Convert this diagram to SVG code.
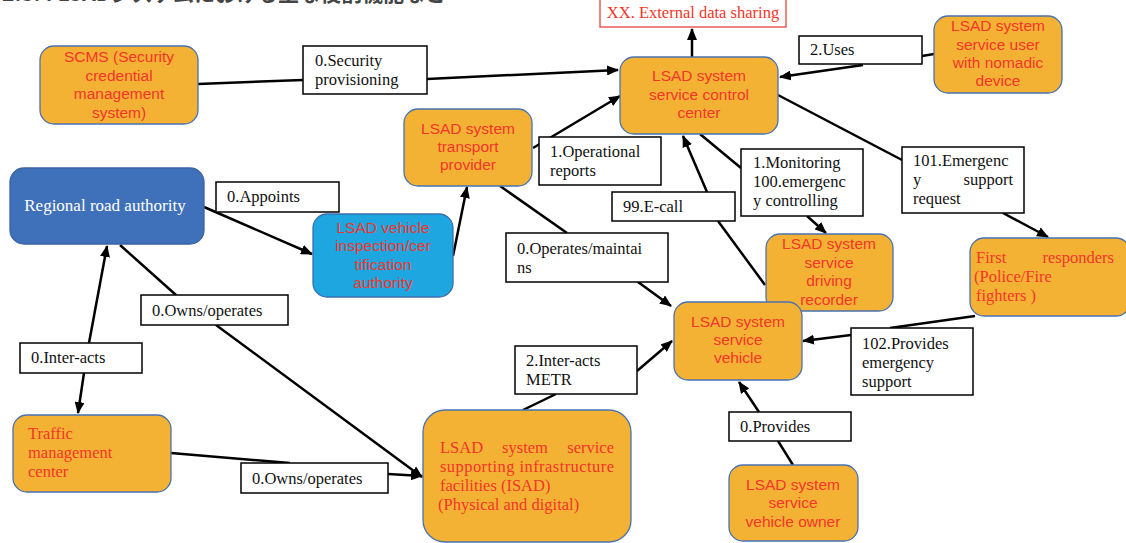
<svg xmlns="http://www.w3.org/2000/svg" width="1126" height="543" viewBox="0 0 1126 543">
  <style>
    .node { fill: #F3B234; stroke: #4A72B0; stroke-width: 1.3; }
    .blue { fill: #3F70BA; stroke: #3A63A3; stroke-width: 1.3; }
    .cyan { fill: #1DA6DF; stroke: #3A6FB0; stroke-width: 1.3; }
    .lbl { fill: #ffffff; stroke: #000000; stroke-width: 1.5; }
    .ext { fill: #ffffff; stroke: #E8423A; stroke-width: 1.3; }
    .sans { font-family: "Liberation Sans", Arial, sans-serif; font-size: 15.5px; fill: #F5352A; text-anchor: middle; }
    .serif { font-family: "Liberation Serif", "Noto Serif", serif; font-size: 16.5px; fill: #111111; }
    .rserif { font-family: "Liberation Serif", serif; font-size: 16.5px; fill: #F5352A; }
    .conn { fill: none; stroke: #000000; stroke-width: 2.5; }
  </style>
  <defs>
    <marker id="arrow" markerUnits="userSpaceOnUse" markerWidth="12" markerHeight="10" refX="11" refY="5" orient="auto">
      <path d="M0,0 L12,5 L0,10 Z" fill="#000000"/>
    </marker>
  </defs>

  <rect width="1126" height="543" fill="#ffffff"/>

  <!-- heading, cut by the top edge -->
  <text x="2" y="1" font-family="Noto Sans CJK JP, sans-serif" font-size="21" font-weight="bold" fill="#444444">2.3.4 LSADシステムにおける主な役割機能など</text>

  <!-- connectors -->
  <g id="connectors">
    <path class="conn" d="M198,84 L303,80"/>
    <path class="conn" d="M427,79 L618,70" marker-end="url(#arrow)"/>
    <path class="conn" d="M692,57 L692,29" marker-end="url(#arrow)"/>
    <path class="conn" d="M934,54 L922,56"/>
    <path class="conn" d="M863,65 L780,77" marker-end="url(#arrow)"/>
    <path class="conn" d="M778,95 L902,160"/>
    <path class="conn" d="M1003,213 L1048,237" marker-end="url(#arrow)"/>
    <path class="conn" d="M700,134 L741,168"/>
    <path class="conn" d="M807,216 L826,233" marker-end="url(#arrow)"/>
    <path class="conn" d="M765,285 L718,221"/>
    <path class="conn" d="M707,192 L683,136" marker-end="url(#arrow)"/>
    <path class="conn" d="M533,148 L620,96" marker-end="url(#arrow)"/>
    <path class="conn" d="M500,186 L567,233"/>
    <path class="conn" d="M638,282 L671,306" marker-end="url(#arrow)"/>
    <path class="conn" d="M204,207 L312,254" marker-end="url(#arrow)"/>
    <path class="conn" d="M453,256 L467,187" marker-end="url(#arrow)"/>
    <path class="conn" d="M89,343 L107,246" marker-end="url(#arrow)"/>
    <path class="conn" d="M84,373 L78,413" marker-end="url(#arrow)"/>
    <path class="conn" d="M120,245 L176,295"/>
    <path class="conn" d="M216,325 L422,477" marker-end="url(#arrow)"/>
    <path class="conn" d="M171,453 L290,463"/>
    <path class="conn" d="M388,474 L422,476" marker-end="url(#arrow)"/>
    <path class="conn" d="M523,410 L556,394"/>
    <path class="conn" d="M637,371 L672,341" marker-end="url(#arrow)"/>
    <path class="conn" d="M975,316 L890,328"/>
    <path class="conn" d="M851,335 L803,341" marker-end="url(#arrow)"/>
    <path class="conn" d="M793,465 L778,441"/>
    <path class="conn" d="M759,412 L739,382" marker-end="url(#arrow)"/>
  </g>

  <!-- connector labels -->
  <g id="label-security">
    <rect class="lbl" x="303" y="46" width="124" height="48"/>
    <text class="serif" x="315" y="66">0.Security</text>
    <text class="serif" x="315" y="85">provisioning</text>
  </g>
  <g id="label-uses">
    <rect class="lbl" x="799" y="36" width="123" height="28"/>
    <text class="serif" x="810" y="55">2.Uses</text>
  </g>
  <g id="label-operational">
    <rect class="lbl" x="539" y="137" width="122" height="48"/>
    <text class="serif" x="550" y="157">1.Operational</text>
    <text class="serif" x="550" y="176">reports</text>
  </g>
  <g id="label-monitoring">
    <rect class="lbl" x="741" y="149" width="122" height="67"/>
    <text class="serif" x="753" y="168">1.Monitoring</text>
    <text class="serif" x="753" y="187">100.emergenc</text>
    <text class="serif" x="753" y="206">y controlling</text>
  </g>
  <g id="label-emergency-request">
    <rect class="lbl" x="902" y="147" width="122" height="66"/>
    <text class="serif" x="913" y="166">101.Emergenc</text>
    <text class="serif" x="913" y="185">y</text>
    <text class="serif" x="1013" y="185" text-anchor="end">support</text>
    <text class="serif" x="913" y="204">request</text>
  </g>
  <g id="label-ecall">
    <rect class="lbl" x="612" y="192" width="123" height="29"/>
    <text class="serif" x="623" y="212">99.E-call</text>
  </g>
  <g id="label-appoints">
    <rect class="lbl" x="216" y="182" width="123" height="30"/>
    <text class="serif" x="227" y="202">0.Appoints</text>
  </g>
  <g id="label-operates">
    <rect class="lbl" x="506" y="233" width="162" height="49"/>
    <text class="serif" x="517" y="254">0.Operates/maintai</text>
    <text class="serif" x="517" y="273">ns</text>
  </g>
  <g id="label-owns-upper">
    <rect class="lbl" x="141" y="295" width="147" height="30"/>
    <text class="serif" x="152" y="316">0.Owns/operates</text>
  </g>
  <g id="label-interacts">
    <rect class="lbl" x="20" y="343" width="122" height="30"/>
    <text class="serif" x="31" y="363">0.Inter-acts</text>
  </g>
  <g id="label-metr">
    <rect class="lbl" x="515" y="346" width="122" height="48"/>
    <text class="serif" x="526" y="366">2.Inter-acts</text>
    <text class="serif" x="526" y="385">METR</text>
  </g>
  <g id="label-provides-support">
    <rect class="lbl" x="851" y="328" width="122" height="67"/>
    <text class="serif" x="862" y="349">102.Provides</text>
    <text class="serif" x="862" y="368">emergency</text>
    <text class="serif" x="862" y="387">support</text>
  </g>
  <g id="label-provides">
    <rect class="lbl" x="729" y="412" width="122" height="29"/>
    <text class="serif" x="740" y="432">0.Provides</text>
  </g>
  <g id="label-owns-lower">
    <rect class="lbl" x="241" y="463" width="147" height="30"/>
    <text class="serif" x="252" y="484">0.Owns/operates</text>
  </g>

  <!-- nodes -->
  <g id="external-data-sharing">
    <rect class="ext" x="600" y="-1" width="186" height="28"/>
    <text class="rserif" x="693" y="18" text-anchor="middle">XX. External data sharing</text>
  </g>
  <g id="scms">
    <rect class="node" x="40" y="46" width="158" height="78" rx="14"/>
    <text class="sans" x="119" y="62">SCMS (Security</text>
    <text class="sans" x="119" y="81">credential</text>
    <text class="sans" x="119" y="99">management</text>
    <text class="sans" x="119" y="118">system)</text>
  </g>
  <g id="control-center">
    <rect class="node" x="620" y="57" width="158" height="77" rx="14"/>
    <text class="sans" x="699" y="81">LSAD system</text>
    <text class="sans" x="699" y="100">service control</text>
    <text class="sans" x="699" y="118">center</text>
  </g>
  <g id="nomadic-user">
    <rect class="node" x="934" y="16" width="128" height="77" rx="14"/>
    <text class="sans" x="998" y="31">LSAD system</text>
    <text class="sans" x="998" y="50">service user</text>
    <text class="sans" x="998" y="68">with nomadic</text>
    <text class="sans" x="998" y="86">device</text>
  </g>
  <g id="transport-provider">
    <rect class="node" x="404" y="109" width="128" height="77" rx="14"/>
    <text class="sans" x="468" y="134">LSAD system</text>
    <text class="sans" x="468" y="152">transport</text>
    <text class="sans" x="468" y="170">provider</text>
  </g>
  <g id="regional-road-authority">
    <rect class="blue" x="10" y="168" width="194" height="76" rx="14"/>
    <text x="105" y="211" font-family="Liberation Serif, serif" font-size="17" fill="#ffffff" text-anchor="middle">Regional road authority</text>
  </g>
  <g id="inspection-authority">
    <rect class="cyan" x="313" y="214" width="140" height="83" rx="14"/>
    <text class="sans" x="383" y="233">LSAD vehicle</text>
    <text class="sans" x="383" y="251">inspection/cer</text>
    <text class="sans" x="383" y="270">tification</text>
    <text class="sans" x="383" y="288">authority</text>
  </g>
  <g id="driving-recorder">
    <rect class="node" x="766" y="234" width="127" height="77" rx="14"/>
    <text class="sans" x="829" y="249">LSAD system</text>
    <text class="sans" x="829" y="268">service</text>
    <text class="sans" x="829" y="286">driving</text>
    <text class="sans" x="829" y="305">recorder</text>
  </g>
  <g id="first-responders">
    <rect class="node" x="970" y="238" width="160" height="78" rx="14"/>
    <text class="rserif" x="976" y="263">First</text>
    <text class="rserif" x="1114" y="263" text-anchor="end">responders</text>
    <text class="rserif" x="974" y="282">(Police/Fire</text>
    <text class="rserif" x="976" y="301">fighters )</text>
  </g>
  <g id="service-vehicle">
    <rect class="node" x="674" y="302" width="128" height="78" rx="14"/>
    <text class="sans" x="738" y="327">LSAD system</text>
    <text class="sans" x="738" y="345">service</text>
    <text class="sans" x="738" y="363">vehicle</text>
  </g>
  <g id="traffic-management-center">
    <rect class="node" x="13" y="415" width="158" height="77" rx="14"/>
    <text class="rserif" x="28" y="439">Traffic</text>
    <text class="rserif" x="28" y="458">management</text>
    <text class="rserif" x="28" y="477">center</text>
  </g>
  <g id="infrastructure-facilities">
    <rect class="node" x="423" y="410" width="208" height="132" rx="22"/>
    <text class="rserif" x="440" y="453">LSAD</text>
    <text class="rserif" x="525" y="453" text-anchor="middle">system</text>
    <text class="rserif" x="614" y="453" text-anchor="end">service</text>
    <text class="rserif" x="440" y="472" textLength="174" lengthAdjust="spacing">supporting infrastructure</text>
    <text class="rserif" x="440" y="491">facilities (ISAD)</text>
    <text class="rserif" x="438" y="510">(Physical and digital)</text>
  </g>
  <g id="vehicle-owner">
    <rect class="node" x="729" y="465" width="129" height="76" rx="14"/>
    <text class="sans" x="793" y="490">LSAD system</text>
    <text class="sans" x="793" y="508">service</text>
    <text class="sans" x="793" y="527">vehicle owner</text>
  </g>
</svg>
